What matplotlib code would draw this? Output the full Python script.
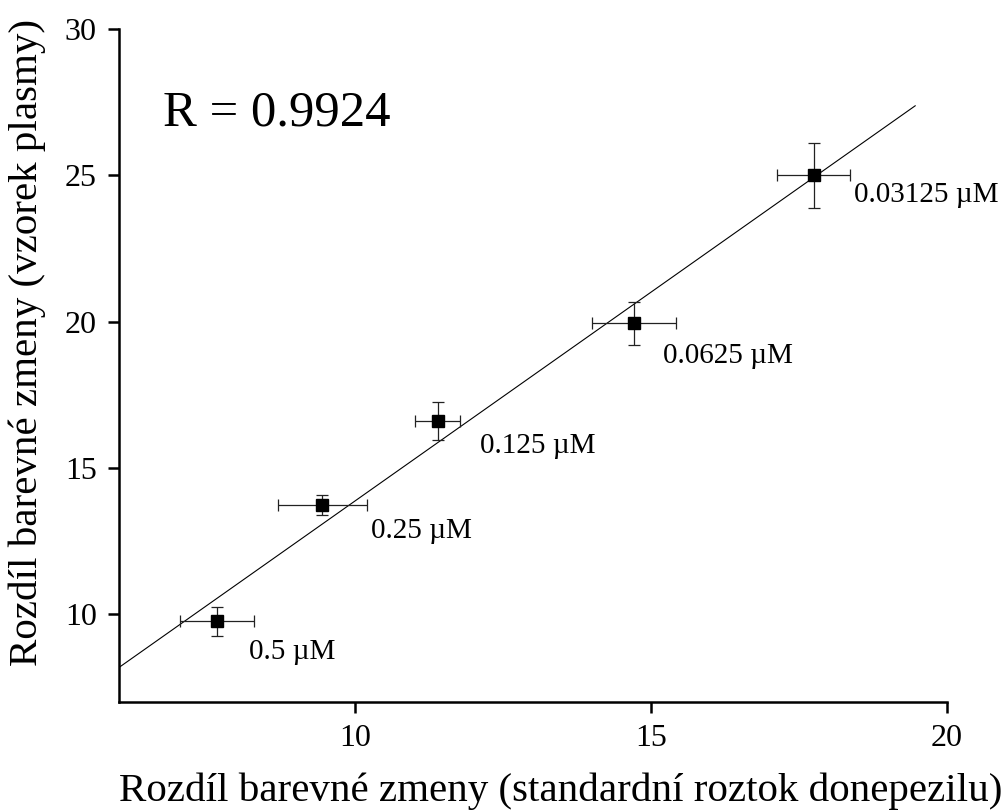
import numpy as np
import matplotlib
matplotlib.use("Agg")
import matplotlib.pyplot as plt

plt.rcParams['font.family'] = ['Liberation Serif', 'DejaVu Serif']

# standard donepezil solution vs. plasma sample (colour change difference)
std_diff = [7.66, 9.44, 11.39, 14.71, 17.75]
plasma_diff = [9.76, 13.73, 16.6, 19.95, 25.0]
std_err = [0.63, 0.75, 0.38, 0.71, 0.62]
plasma_err = [0.5, 0.34, 0.65, 0.73, 1.1]
conc_labels = ['0.5 µM', '0.25 µM', '0.125 µM', '0.0625 µM', '0.03125 µM']
r_value = 0.9924

fig = plt.figure(figsize=(10.08, 8.1), dpi=100)
ax = fig.add_axes([0.118, 0.133, 0.821, 0.831])

# linear fit through the points
k, q = np.polyfit(std_diff, plasma_diff, 1)
xf = np.array([6.0, 19.47])
ax.plot(xf, k * xf + q, color='black', lw=0.8, zorder=1)

ax.errorbar(std_diff, plasma_diff, xerr=std_err, yerr=plasma_err,
            fmt='s', color='black', ms=8.5, ecolor='#222222',
            elinewidth=0.9, capsize=4.5, capthick=0.9, zorder=3)

offsets = [(32, -31), (49, -26), (42, -25), (29, -33), (40, -20)]
for x, y, lab, off in zip(std_diff, plasma_diff, conc_labels, offsets):
    ax.annotate(lab, (x, y), xytext=off, textcoords='offset pixels',
                ha='left', va='center', fontsize=21)

ax.text(0.053, 0.875, 'R = %.4f' % r_value, transform=ax.transAxes,
        fontsize=36.5, ha='left', va='center')

ax.set_xlim(6, 20)
ax.set_ylim(7, 30)
ax.set_xticks([10, 15, 20])
ax.set_yticks([10, 15, 20, 25, 30])
ax.spines['top'].set_visible(False)
ax.spines['right'].set_visible(False)
for s in ('left', 'bottom'):
    ax.spines[s].set_linewidth(1.8)
ax.tick_params(direction='out', length=8, width=1.8, labelsize=23, pad=8)

ax.set_xlabel('Rozdíl barevné zmeny (standardní roztok donepezilu)', fontsize=29.5)
ax.set_ylabel('Rozdíl barevné zmeny (vzorek plasmy)', fontsize=29.5)
ax.xaxis.set_label_coords(0.534, -0.105)
ax.yaxis.set_label_coords(-0.088, 0.535)

fig.savefig('out.png', dpi=100)
